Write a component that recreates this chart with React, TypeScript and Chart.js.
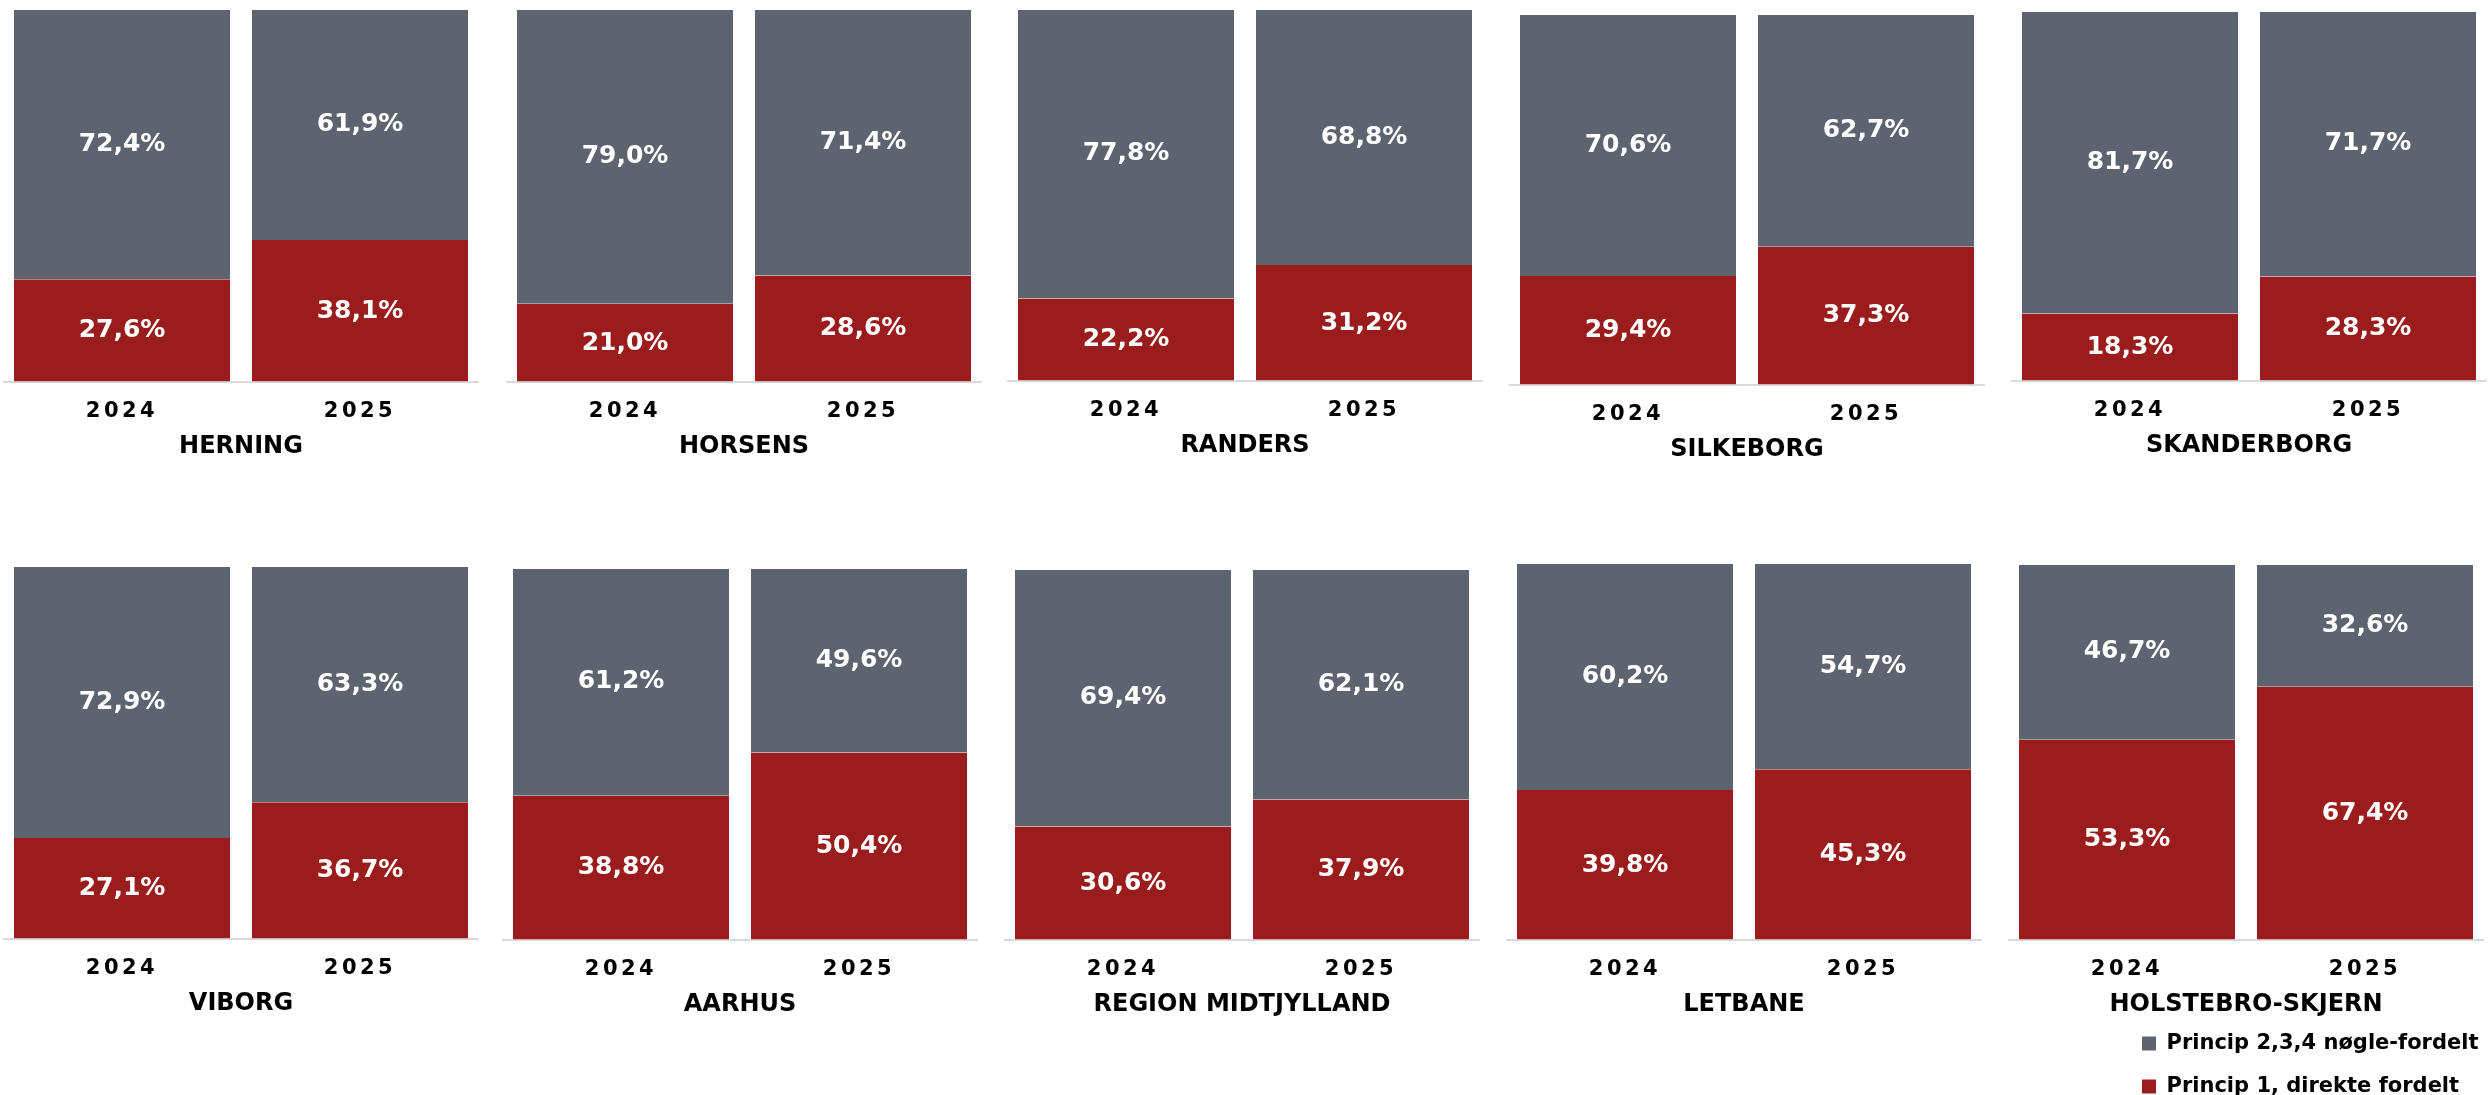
import React, { useEffect, useRef } from 'react';
import { Chart, registerables } from 'chart.js';

Chart.register(...registerables);
Chart.defaults.font.family = '"DejaVu Sans", Verdana, sans-serif';

// ---------- data ----------
const panelNames = [
  'HERNING', 'HORSENS', 'RANDERS', 'SILKEBORG', 'SKANDERBORG',
  'VIBORG', 'AARHUS', 'REGION MIDTJYLLAND', 'LETBANE', 'HOLSTEBRO-SKJERN',
];
const years = ['2024', '2025'];
const seriesNames = ['Princip 1, direkte fordelt', 'Princip 2,3,4 nøgle-fordelt'];
const direkte2024 = [27.6, 21.0, 22.2, 29.4, 18.3, 27.1, 38.8, 30.6, 39.8, 53.3];
const direkte2025 = [38.1, 28.6, 31.2, 37.3, 28.3, 36.7, 50.4, 37.9, 45.3, 67.4];
const noegle2024 = [72.4, 79.0, 77.8, 70.6, 81.7, 72.9, 61.2, 69.4, 60.2, 46.7];
const noegle2025 = [61.9, 71.4, 68.8, 62.7, 71.7, 63.3, 49.6, 62.1, 54.7, 32.6];

// ---------- layout / style ----------
const PANEL_LEFT = [3, 506, 1007, 1509, 2011, 3, 502, 1004, 1506, 2008];
const PANEL_TOP = [9, 9, 9, 14, 11, 566, 568, 569, 563, 564];
const PANEL_BOTTOM = [382, 382, 381, 385, 381, 939, 940, 940, 940, 940];
const PANEL_W = 476;
const AXIS_H = 44;
const TITLE_PAD_TOP = 6;
const TITLE_PAD_BOTTOM = 4;
const TITLE_SIZE = 24;
const RED = '#9b1c1c';
const GRAY = '#5d6470';
const EDGE = 'rgba(255,255,255,0.35)';

const fmt = (v: number) => v.toFixed(1).replace('.', ',') + '%';

const valueLabels = {
  id: 'valueLabels',
  afterDatasetsDraw(chart: any) {
    const ctx = chart.ctx;
    ctx.save();
    ctx.font = 'bold 25px "DejaVu Sans", Verdana, sans-serif';
    ctx.fillStyle = '#ffffff';
    ctx.textAlign = 'center';
    ctx.textBaseline = 'middle';
    chart.data.datasets.forEach((ds: any, di: number) => {
      const meta = chart.getDatasetMeta(di);
      meta.data.forEach((el: any, i: number) => {
        const { x, y, base } = el.getProps(['x', 'y', 'base'], true);
        ctx.fillText(fmt(ds.data[i]), x, (y + base) / 2);
      });
    });
    ctx.restore();
  },
};

const tickSpacing = {
  id: 'tickSpacing',
  afterDatasetsDraw(chart: any) {
    (chart.ctx as any).letterSpacing = '3.5px';
  },
  afterDraw(chart: any) {
    (chart.ctx as any).letterSpacing = '0px';
  },
};

function Panel({ index }: { index: number }) {
  const ref = useRef<HTMLCanvasElement | null>(null);
  const T = PANEL_TOP[index];
  const B = PANEL_BOTTOM[index];
  const titleH = TITLE_PAD_TOP + TITLE_SIZE * 1.2 + TITLE_PAD_BOTTOM;
  const H = Math.round(B - T + AXIS_H + titleH);

  useEffect(() => {
    if (!ref.current) return;
    const chart = new Chart(ref.current, {
      type: 'bar',
      data: {
        labels: years,
        datasets: [
          {
            label: seriesNames[0],
            data: [direkte2024[index], direkte2025[index]],
            backgroundColor: RED,
            borderColor: EDGE,
            borderWidth: { top: 0, left: 1, right: 1, bottom: 1 },
            borderSkipped: false,
          },
          {
            label: seriesNames[1],
            data: [noegle2024[index], noegle2025[index]],
            backgroundColor: GRAY,
            borderColor: EDGE,
            borderWidth: { top: 1, left: 1, right: 1, bottom: 0 },
            borderSkipped: false,
          },
        ],
      },
      options: {
        responsive: false,
        animation: false,
        events: [],
        layout: { padding: 0 },
        datasets: { bar: { barPercentage: 0.916, categoryPercentage: 1 } },
        scales: {
          x: {
            stacked: true,
            grid: { display: false, drawTicks: false, tickLength: 0 },
            border: { display: true, color: '#d9d9d9', width: 2 },
            ticks: {
              color: '#000000',
              font: { size: 21, weight: 'bold', lineHeight: 1.2 },
              padding: 16.4,
              z: 1,
              maxRotation: 0,
              autoSkip: false,
            },
            afterFit: (s: any) => {
              s.height = AXIS_H;
            },
          },
          y: { stacked: true, display: false, min: 0, max: 100 },
        },
        plugins: {
          legend: { display: false },
          tooltip: { enabled: false },
          title: {
            display: true,
            text: panelNames[index],
            position: 'bottom',
            color: '#000000',
            font: { size: TITLE_SIZE, weight: 'bold', lineHeight: 1.2 },
            padding: { top: TITLE_PAD_TOP, bottom: TITLE_PAD_BOTTOM },
          },
        },
      } as any,
      plugins: [valueLabels, tickSpacing],
    });
    return () => chart.destroy();
  }, [index]);

  return (
    <canvas
      ref={ref}
      width={PANEL_W}
      height={H}
      style={{ position: 'absolute', left: PANEL_LEFT[index], top: T, width: PANEL_W, height: H }}
    />
  );
}

function LegendChart() {
  const ref = useRef<HTMLCanvasElement | null>(null);
  useEffect(() => {
    if (!ref.current) return;
    const chart = new Chart(ref.current, {
      type: 'bar',
      data: {
        labels: [],
        datasets: [
          { label: seriesNames[0], data: [], backgroundColor: RED },
          { label: seriesNames[1], data: [], backgroundColor: GRAY },
        ],
      },
      options: {
        responsive: false,
        animation: false,
        events: [],
        layout: { padding: 0 },
        scales: { x: { display: false }, y: { display: false } },
        plugins: {
          tooltip: { enabled: false },
          legend: {
            position: 'top',
            align: 'start',
            reverse: true,
            labels: {
              boxWidth: 14,
              boxHeight: 14,
              padding: 22,
              color: '#000000',
              font: { size: 21, weight: 'bold' },
            },
          },
        },
      } as any,
    });
    return () => chart.destroy();
  }, []);
  return (
    <canvas
      ref={ref}
      width={371}
      height={260}
      style={{ position: 'absolute', left: 2120, top: 1011, width: 371, height: 260 }}
    />
  );
}

export default function App() {
  return (
    <div
      style={{
        position: 'fixed',
        left: 0,
        top: 0,
        width: 2491,
        height: 1095,
        background: '#ffffff',
        overflow: 'hidden',
      }}
    >
      {panelNames.map((_, i) => (
        <Panel key={i} index={i} />
      ))}
      <LegendChart />
    </div>
  );
}
